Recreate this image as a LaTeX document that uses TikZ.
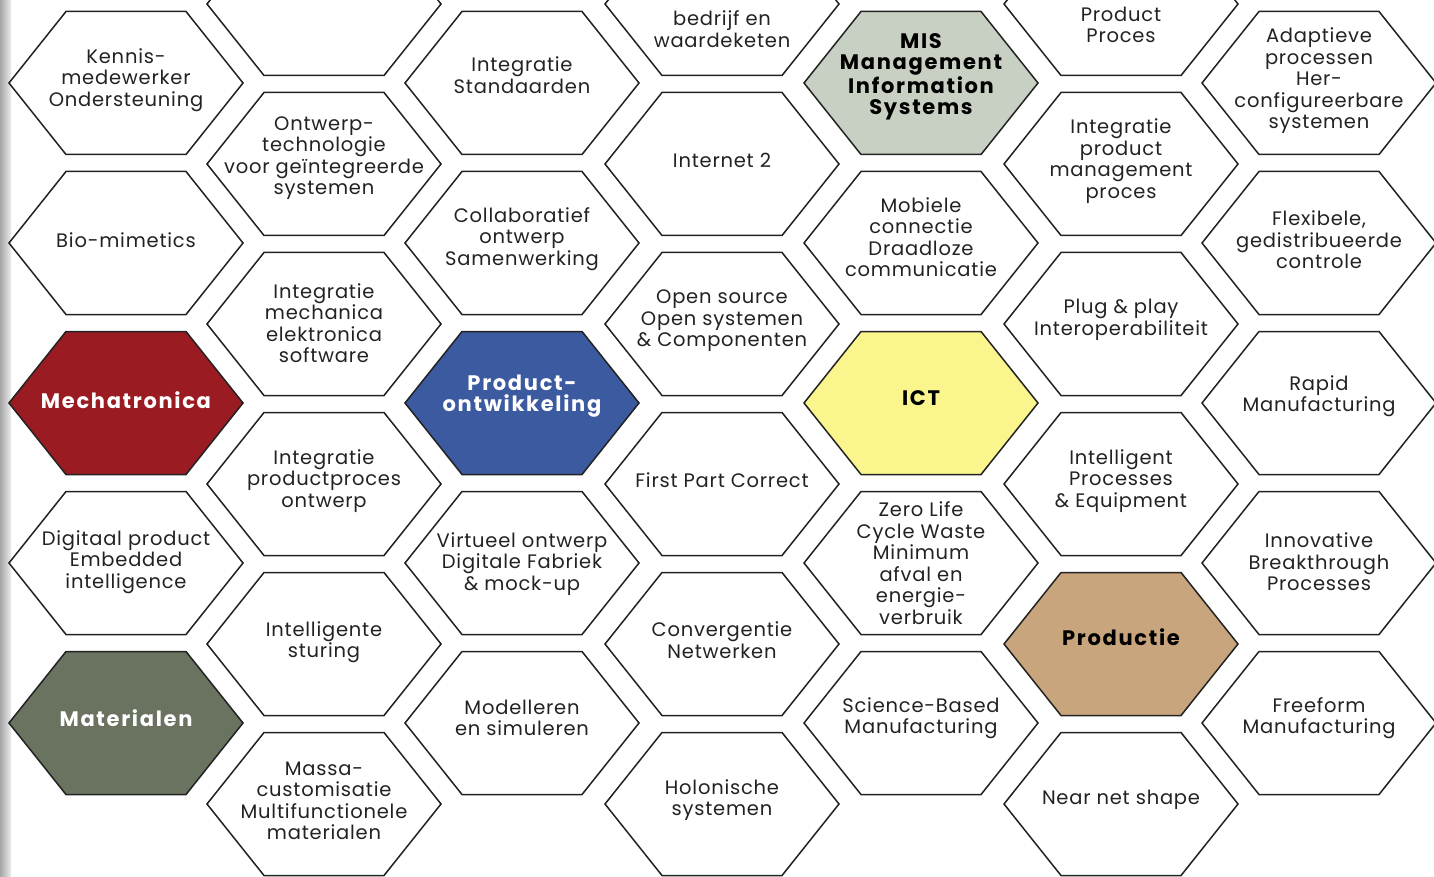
\documentclass[tikz,border=0pt]{standalone}
\usepackage{fontspec}
\setmainfont{Poppins}
\newfontfamily\hexfont{Poppins}[LetterSpace=4]
\newfontfamily\hexboldfont{Poppins}[LetterSpace=8]
\definecolor{mechared}{HTML}{9A1C22}
\definecolor{prodblue}{HTML}{3C5AA0}
\definecolor{misgray}{HTML}{C8D0C3}
\definecolor{ictyellow}{HTML}{FAF58C}
\definecolor{prodtan}{HTML}{C8A57D}
\definecolor{matgreen}{HTML}{69735F}
\definecolor{inkcol}{HTML}{222222}
\newcommand{\hexcell}[7]{%
  \draw[hexline,fill=#4,shift={(#2,#3)}] (-117,0) -- (-60,-71.5) -- (60,-71.5) -- (117,0) -- (60,71.5) -- (-60,71.5) -- cycle;
  \node[#5] (#1) at (#2,#6) {#7};}
\begin{document}
\begin{tikzpicture}[x=1pt,y=-1pt,
  hexline/.style={draw=inkcol, line width=1.5pt, line join=miter},
  lbl/.style={align=center, font=\hexfont\fontsize{19.5}{21.5}\selectfont, text=inkcol, inner sep=0pt},
  blbl/.style={align=center, font=\hexboldfont\bfseries\fontsize{21}{21.5}\selectfont, text=black, inner sep=0pt},
  wlbl/.style={align=center, font=\hexboldfont\bfseries\fontsize{21}{21.5}\selectfont, text=white, inner sep=0pt}]
\useasboundingbox (0,0) rectangle (1434,877);
\clip (0,0) rectangle (1434,877);
\fill[white] (0,0) rectangle (1434,877);
\shade[left color=gray!70, right color=gray!15] (0,0) rectangle (11,877);
% column 1
\hexcell{kennis}{126}{83}{white}{lbl}{80}{Kennis-\\medewerker\\Ondersteuning}
\hexcell{bio}{126}{243}{white}{lbl}{240}{Bio-mimetics}
\hexcell{mecha}{126}{403}{mechared}{wlbl}{400}{Mechatronica}
\hexcell{digi}{126}{563}{white}{lbl}{562}{Digitaal product\\Embedded\\intelligence}
\hexcell{mater}{126}{723}{matgreen}{wlbl}{718}{Materialen}
% column 2
\hexcell{emptytop}{324}{4}{white}{lbl}{4}{}
\hexcell{ontwerp}{324}{164}{white}{lbl}{158}{Ontwerp-\\technologie\\voor geïntegreerde\\systemen}
\hexcell{mechel}{324}{324}{white}{lbl}{323}{Integratie\\mechanica\\elektronica\\software}
\hexcell{ipo}{324}{484}{white}{lbl}{481}{Integratie\\productproces\\ontwerp}
\hexcell{isturing}{324}{644}{white}{lbl}{642}{Intelligente\\sturing}
\hexcell{massa}{324}{804}{white}{lbl}{801}{Massa-\\customisatie\\Multifunctionele\\materialen}
% column 3
\hexcell{istand}{522}{83}{white}{lbl}{75}{Integratie\\Standaarden}
\hexcell{collab}{522}{243}{white}{lbl}{239}{Collaboratief\\ontwerp\\Samenwerking}
\hexcell{prodontw}{522}{403}{prodblue}{wlbl}{396}{Product-\\ontwikkeling}
\hexcell{virt}{522}{563}{white}{lbl}{564}{Virtueel ontwerp\\Digitale Fabriek\\\& mock-up}
\hexcell{model}{522}{723}{white}{lbl}{718}{Modelleren\\en simuleren}
% column 4
\hexcell{bedrijf}{722}{4}{white}{lbl}{29}{bedrijf en\\waardeketen}
\hexcell{inet}{722}{164}{white}{lbl}{160}{Internet 2}
\hexcell{opens}{722}{324}{white}{lbl}{321}{Open source\\Open systemen\\\& Componenten}
\hexcell{fpc}{722}{484}{white}{lbl}{480}{First Part Correct}
\hexcell{conv}{722}{644}{white}{lbl}{640}{Convergentie\\Netwerken}
\hexcell{holon}{722}{804}{white}{lbl}{800}{Holonische\\systemen}
% column 5
\hexcell{mis}{921}{83}{misgray}{blbl}{77}{MIS\\Management\\Information\\Systems}
\hexcell{mobiel}{921}{243}{white}{lbl}{237}{Mobiele\\connectie\\Draadloze\\communicatie}
\hexcell{ict}{921}{403}{ictyellow}{blbl}{398}{ICT}
\hexcell{zero}{921}{563}{white}{lbl}{563}{Zero Life\\Cycle Waste\\Minimum\\afval en\\energie-\\verbruik}
\hexcell{science}{921}{723}{white}{lbl}{718}{Science-Based\\Manufacturing}
% column 6
\hexcell{pp}{1121}{4}{white}{lbl}{25}{Product\\Proces}
\hexcell{ipm}{1121}{164}{white}{lbl}{161}{Integratie\\product\\management\\proces}
\hexcell{plug}{1121}{324}{white}{lbl}{320}{Plug \& play\\Interoperabiliteit}
\hexcell{intproc}{1121}{484}{white}{lbl}{481}{Intelligent\\Processes\\\& Equipment}
\hexcell{productie}{1121}{644}{prodtan}{blbl}{637}{Productie}
\hexcell{nearnet}{1121}{804}{white}{lbl}{800}{Near net shape}
% column 7
\hexcell{adapt}{1319}{83}{white}{lbl}{81}{Adaptieve\\processen\\Her-\\configureerbare\\systemen}
\hexcell{flex}{1319}{243}{white}{lbl}{240}{Flexibele,\\gedistribueerde\\controle}
\hexcell{rapid}{1319}{403}{white}{lbl}{396}{Rapid\\Manufacturing}
\hexcell{innov}{1319}{563}{white}{lbl}{562}{Innovative\\Breakthrough\\Processes}
\hexcell{freeform}{1319}{723}{white}{lbl}{718}{Freeform\\Manufacturing}
\end{tikzpicture}
\end{document}
